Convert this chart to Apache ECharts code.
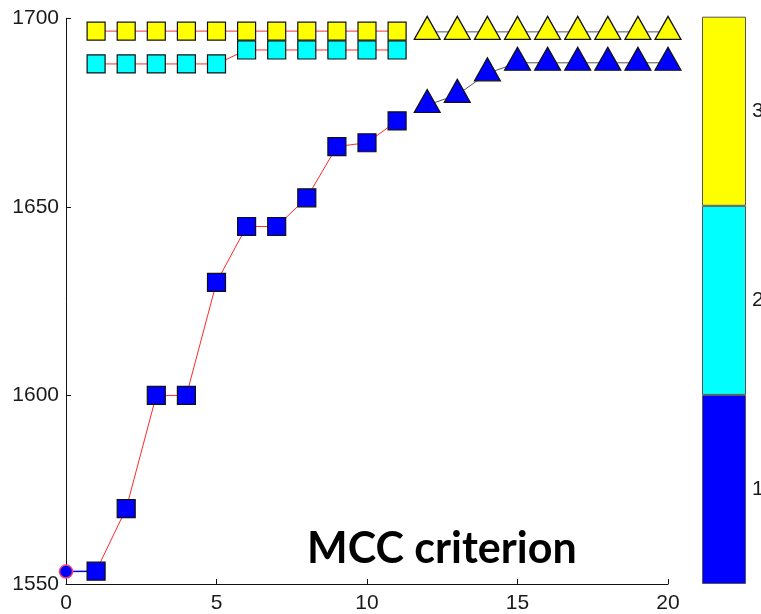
<!DOCTYPE html>
<html>
<head>
<meta charset="utf-8">
<script src="https://cdn.jsdelivr.net/npm/echarts@6/dist/echarts.min.js"></script>
<style>html,body{margin:0;padding:0;background:#fff;}#c{width:761px;height:614px;}</style>
</head>
<body>
<div id="c"></div>
<script>
// ---- data ----
var startX = [0, 1];
var startY = [1553.3, 1553.4];
var squareX = [1, 2, 3, 4, 5, 6, 7, 8, 9, 10, 11];
var blueSquares = [1553.4, 1570, 1600, 1600, 1630, 1644.8, 1644.8, 1652.4, 1666, 1667, 1672.8];
var cyanSquares = [1687.9, 1687.9, 1687.9, 1687.9, 1687.9, 1691.6, 1691.6, 1691.6, 1691.6, 1691.6, 1691.6];
var yellowSquares = [1696.6, 1696.6, 1696.6, 1696.6, 1696.6, 1696.6, 1696.6, 1696.6, 1696.6, 1696.6, 1696.6];
var triangleX = [12, 13, 14, 15, 16, 17, 18, 19, 20];
var blueTriangles = [1677, 1679.7, 1685.4, 1688.2, 1688.2, 1688.2, 1688.2, 1688.2, 1688.2];
var yellowTriangles = [1696.4, 1696.4, 1696.4, 1696.4, 1696.4, 1696.4, 1696.4, 1696.4, 1696.4];
var xTicks = [0, 5, 10, 15, 20];
var yTicks = [1550, 1600, 1650, 1700];
var colorbarLabels = ['1', '2', '3'];
var colorbarColors = ['#0000ff', '#00ffff', '#ffff00'];
var annotation = 'MCC criterion';

function zip(xs, ys) { return xs.map(function (x, i) { return [x, ys[i]]; }); }

var chart = echarts.init(document.getElementById('c'), null, { renderer: 'canvas' });
var labelFont = { fontFamily: 'Liberation Sans, Arial, sans-serif', fontSize: 21, color: '#1a1a1a' };

function sqSeries(name, ys, fill) {
  return {
    name: name, type: 'line', xAxisIndex: 0, yAxisIndex: 0,
    data: zip(squareX, ys),
    symbol: 'rect', symbolSize: 18, showSymbol: true,
    lineStyle: { color: '#ff2a2a', width: 1 },
    itemStyle: { color: fill, borderColor: '#111', borderWidth: 1.2 },
    silent: true, animation: false, z: 3
  };
}
function triSeries(name, ys, fill) {
  return {
    name: name, type: 'line', xAxisIndex: 0, yAxisIndex: 0,
    data: zip(triangleX, ys),
    symbol: 'triangle', symbolSize: [26, 23], symbolOffset: [0, -4],
    lineStyle: { color: '#555', width: 1 },
    itemStyle: { color: fill, borderColor: '#111', borderWidth: 1.2 },
    silent: true, animation: false, z: 3
  };
}

var option = {
  backgroundColor: '#fff',
  animation: false,
  grid: [
    { left: 66, top: 18.3, width: 602, height: 565.7, containLabel: false, outerBoundsMode: 'none' },
    { left: 702, top: 16.7, width: 44, height: 567.3, containLabel: false, outerBoundsMode: 'none' }
  ],
  xAxis: [
    {
      gridIndex: 0, type: 'value', min: xTicks[0], max: xTicks[xTicks.length - 1], interval: 5,
      axisLine: { show: true, onZero: false, lineStyle: { color: '#111', width: 1 } },
      axisTick: { show: true, inside: true, length: 5, lineStyle: { color: '#111' } },
      axisLabel: Object.assign({ margin: 9, formatter: function (v) { return String(v); } }, labelFont),
      splitLine: { show: false }
    },
    {
      gridIndex: 1, type: 'value', min: 0, max: 1, show: false
    }
  ],
  yAxis: [
    {
      gridIndex: 0, type: 'value', min: yTicks[0], max: yTicks[yTicks.length - 1], interval: 50,
      axisLine: { show: true, onZero: false, lineStyle: { color: '#111', width: 1 } },
      axisTick: { show: true, inside: true, length: 5, lineStyle: { color: '#111' } },
      axisLabel: Object.assign({ margin: 7, formatter: function (v) { return String(v); } }, labelFont),
      splitLine: { show: false }
    },
    {
      gridIndex: 1, type: 'category', data: colorbarLabels, position: 'right',
      axisLine: { show: false }, axisTick: { show: false },
      axisLabel: Object.assign({ margin: 6 }, labelFont),
      splitLine: { show: false }
    }
  ],
  series: [
    {
      name: 'start', type: 'line', xAxisIndex: 0, yAxisIndex: 0,
      data: zip(startX, startY),
      symbol: function (v, p) { return p.dataIndex === 0 ? 'circle' : 'none'; },
      symbolSize: 13,
      lineStyle: { color: '#0000ff', width: 1.5 },
      itemStyle: { color: '#0000ff', borderColor: '#ff3b6b', borderWidth: 1.5 },
      silent: true, z: 2
    },
    sqSeries('blueSq', blueSquares, '#0000ff'),
    sqSeries('cyanSq', cyanSquares, '#00ffff'),
    sqSeries('yellowSq', yellowSquares, '#ffff00'),
    triSeries('blueTri', blueTriangles, '#0000ff'),
    triSeries('yellowTri', yellowTriangles, '#ffff00'),
    {
      name: 'colorbar', type: 'bar', xAxisIndex: 1, yAxisIndex: 1,
      barCategoryGap: '0%', barWidth: '100%',
      data: colorbarLabels.map(function (l, i) {
        return { value: 1, itemStyle: { color: colorbarColors[i] } };
      }),
      itemStyle: { borderColor: '#555', borderWidth: 1 },
      silent: true
    }
  ],
  graphic: [
    {
      type: 'text', left: 307, top: 528, silent: true,
      style: {
        text: annotation, fontFamily: 'Lato, "Open Sans", sans-serif', fontWeight: 'bold',
        fontSize: 43, fill: '#000'
      }
    }
  ]
};
chart.setOption(option);
</script>
</body>
</html>
